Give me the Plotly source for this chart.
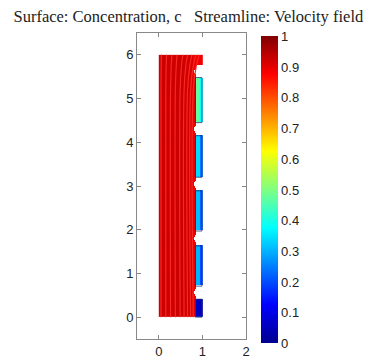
import numpy as np
import plotly.graph_objects as go

# Cavity wells along the right wall (y ranges) and their mean concentration
cavity_y0 = [0.00, 0.71, 1.97, 3.20, 4.45]
cavity_y1 = [0.41, 1.63, 2.89, 4.15, 5.48]
cavity_conc_inner = [0.06, 0.30, 0.31, 0.34, 0.47]
cavity_conc_outer = [0.04, 0.20, 0.22, 0.24, 0.38]

# Concentration bands across the main channel (x edges / values)
channel_edges = [0.0, 0.15, 0.35, 0.55, 0.70, 0.78, 0.85]
channel_conc = [0.925, 0.92, 0.925, 0.92, 0.91, 0.89]

# Streamline positions (bottom x, top x)
stream_x0 = [0.05, 0.16, 0.27, 0.38, 0.49, 0.58, 0.66, 0.73, 0.79]
stream_x1 = [0.06, 0.18, 0.30, 0.42, 0.55, 0.66, 0.76, 0.85, 0.93]

domain_h = 6.0
wall_x = 1.0
cavity_left = 0.84
top_band_y = 5.76

# grid
dx, dy = 0.01, 0.02
xc = np.arange(dx / 2, wall_x, dx)
yc = np.arange(dy / 2, domain_h, dy)
X, Y = np.meshgrid(xc, yc)
Z = np.full(X.shape, np.nan)

# main channel
for a, b, v in zip(channel_edges[:-1], channel_edges[1:], channel_conc):
    Z[(X >= a) & (X < b)] = v
# top band reaches the right wall
Z[(Y >= top_band_y) & (X >= channel_edges[-1])] = channel_conc[-1]

# cavities
for y0, y1, ci, co in zip(cavity_y0, cavity_y1, cavity_conc_inner, cavity_conc_outer):
    inside = (Y >= y0) & (Y < y1)
    Z[inside & (X >= cavity_left) & (X < 0.93)] = ci
    Z[inside & (X >= 0.93)] = co

# rounded notches between cavities
gaps = [(cavity_y1[i], cavity_y0[i + 1]) for i in range(len(cavity_y0) - 1)]
gaps.append((cavity_y1[-1], top_band_y))
for g0, g1 in gaps:
    ym, ry = (g0 + g1) / 2, (g1 - g0) / 2
    mask = ((X - wall_x) / 0.19) ** 2 + ((Y - ym) / ry) ** 2 < 1.0
    Z[mask] = np.nan

jet = [
    [0.0, "rgb(0,0,143)"],
    [0.125, "rgb(0,0,255)"],
    [0.375, "rgb(0,255,255)"],
    [0.625, "rgb(255,255,0)"],
    [0.875, "rgb(255,0,0)"],
    [1.0, "rgb(128,0,0)"],
]

fig = go.Figure()
fig.add_trace(go.Heatmap(
    x=xc, y=yc, z=Z, zmin=0, zmax=1, colorscale=jet, zsmooth=False,
    hoverongaps=False,
    colorbar=dict(
        x=1.138, xanchor="left", xpad=0, ypad=0,
        y=0.487, yanchor="middle", len=307, lenmode="pixels",
        thickness=17, outlinewidth=0, ticks="",
        tickvals=[i / 10 for i in range(11)],
        ticktext=["0", "0.1", "0.2", "0.3", "0.4", "0.5", "0.6", "0.7", "0.8", "0.9", "1"],
        tickfont=dict(family="Liberation Sans", size=13, color="#222"),
    ),
))

# thin outlines of the cavity wells
for y0, y1 in zip(cavity_y0, cavity_y1):
    fig.add_trace(go.Scatter(
        x=[cavity_left, wall_x - 0.01, wall_x - 0.01, cavity_left, cavity_left],
        y=[y0, y0, y1, y1, y0],
        mode="lines", line=dict(color="rgba(20,40,110,0.75)", width=1),
        hoverinfo="skip", showlegend=False,
    ))

for a, b in zip(stream_x0, stream_x1):
    fig.add_trace(go.Scatter(
        x=[a, a, (a + b) / 2, b], y=[0, 5.2, 5.75, domain_h],
        mode="lines", line=dict(color="rgb(245,40,35)", width=1.2),
        line_shape="spline", hoverinfo="skip", showlegend=False,
    ))

axis_common = dict(
    showgrid=False, zeroline=False, showline=True, mirror="ticks",
    linecolor="#888", linewidth=1, ticks="inside", ticklen=4, tickcolor="#888",
    automargin=False,
    tickfont=dict(family="Liberation Sans", size=13, color="#222"),
)
fig.update_xaxes(range=[-0.5, 2.0], tickvals=[0, 1, 2], **axis_common)
fig.update_yaxes(range=[-0.5, 6.5], tickvals=list(range(7)), **axis_common)

fig.update_layout(
    width=373, height=358,
    margin=dict(l=137, r=127, t=33, b=19),
    paper_bgcolor="white", plot_bgcolor="white",
    showlegend=False,
    title=dict(
        text="Surface: Concentration, c   Streamline: Velocity field",
        x=0.505, xanchor="center", y=0.955, yanchor="middle",
        font=dict(family="Liberation Serif", size=16.5, color="#222"),
    ),
)

fig.write_html("out.html")
